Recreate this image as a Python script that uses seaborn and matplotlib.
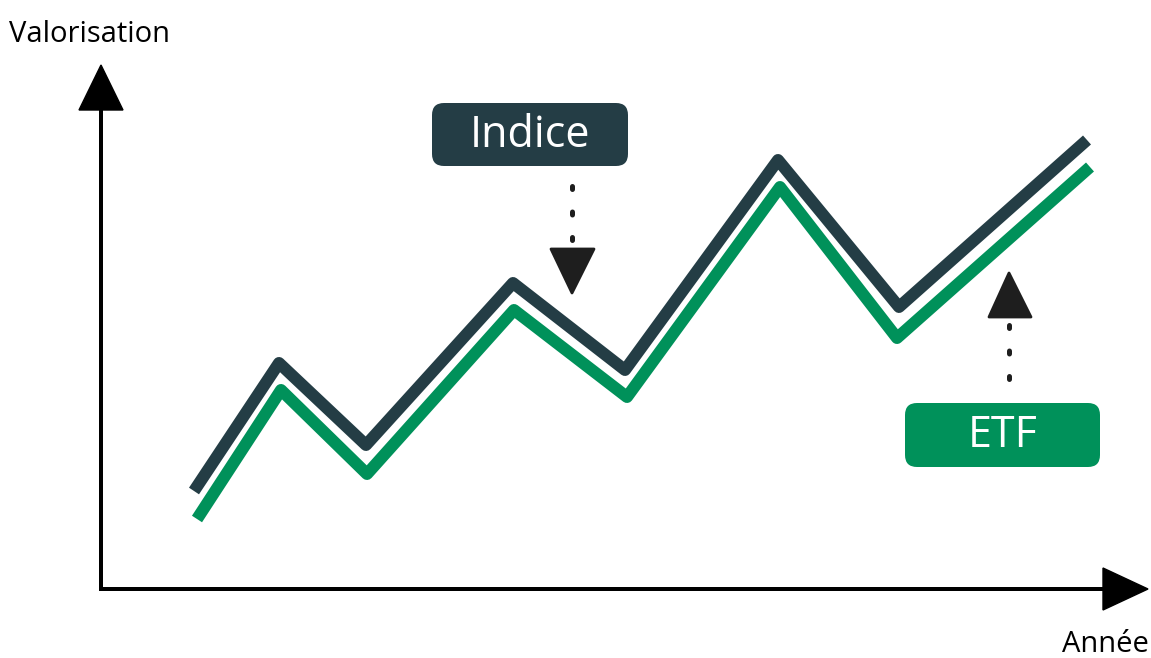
import matplotlib
matplotlib.use("Agg")
import matplotlib.pyplot as plt
import seaborn as sns
import pandas as pd
from matplotlib.patches import Polygon, FancyBboxPatch

# ---- data ----
indice_x = [194, 279, 366, 513, 625, 778, 899, 1087]
indice_y = [167, 295, 213, 375, 288, 498, 351, 518]
etf_x = [197, 281, 367, 514, 627, 780, 897, 1090]
etf_y = [139, 268, 184, 348, 261, 471, 320, 491]
series_names = ["Indice", "ETF"]
x_label = "Année"
y_label = "Valorisation"

C_IND = "#243d45"
C_ETF = "#00915a"
C_ARR = "#1e1e1e"

df = pd.concat([
    pd.DataFrame({"x": indice_x, "y": indice_y, "serie": series_names[0]}),
    pd.DataFrame({"x": etf_x, "y": etf_y, "serie": series_names[1]}),
])

sns.set_theme(style="white")
plt.rcParams['font.family'] = ['Open Sans', 'DejaVu Sans']

W, H = 1151, 658
fig = plt.figure(figsize=(W / 100, H / 100), dpi=100)
ax = fig.add_axes([0, 0, 1, 1])
ax.set_xlim(0, W)
ax.set_ylim(0, H)
ax.axis("off")

def Y(p):
    return H - p

lw_px = 12
sns.lineplot(data=df, x="x", y="y", hue="serie", units="serie", estimator=None,
             sort=False, palette={series_names[0]: C_IND, series_names[1]: C_ETF},
             linewidth=lw_px * 0.72, legend=False, ax=ax)
for ln in ax.lines:
    ln.set_solid_capstyle("butt")
    ln.set_solid_joinstyle("round")

# ---- axes with arrows ----
ax.plot([101, 101], [Y(591), Y(105)], color="black", lw=4 * 0.72, solid_capstyle="butt")
ax.plot([99, 1108], [Y(589), Y(589)], color="black", lw=4 * 0.72, solid_capstyle="butt")
ax.add_patch(Polygon([(79, Y(110)), (123, Y(110)), (101, Y(65))], closed=True,
                     facecolor="black", edgecolor="black", lw=1))
ax.add_patch(Polygon([(1103, Y(568)), (1103, Y(610)), (1148, Y(589))], closed=True,
                     facecolor="black", edgecolor="black", lw=1))

ax.text(9, Y(34), y_label, ha="left", va="center", fontsize=21, color="black")
ax.text(1149, Y(645), x_label, ha="right", va="center", fontsize=21, color="black")

# ---- label boxes ----
def label_box(x0, y0p, x1, y1p, color, text):
    box = FancyBboxPatch((x0, Y(y1p)), x1 - x0, y1p - y0p,
                         boxstyle="round,pad=0,rounding_size=12",
                         facecolor=color, edgecolor="none")
    ax.add_patch(box)
    ax.text((x0 + x1) / 2, Y((y0p + y1p) / 2) - 1, text, ha="center", va="center",
            fontsize=31, color="white")

label_box(432, 103, 628, 166, C_IND, series_names[0])
label_box(905, 403, 1100, 467, C_ETF, series_names[1])

# ---- dotted pointer arrows ----
dot_lw = 5 * 0.72
dots = (0.6, 4.5)
ax.plot([572, 572], [Y(185.5), Y(242)], color=C_ARR, lw=dot_lw,
        dash_capstyle="round", dashes=dots)
ax.add_patch(Polygon([(551, Y(249)), (594, Y(249)), (572, Y(293))], closed=True,
                     facecolor=C_ARR, edgecolor=C_ARR, lw=2, joinstyle="round"))

ax.plot([1009, 1009], [Y(378.5), Y(322)], color=C_ARR, lw=dot_lw,
        dash_capstyle="round", dashes=dots)
ax.add_patch(Polygon([(989, Y(317)), (1031, Y(317)), (1009, Y(273))], closed=True,
                     facecolor=C_ARR, edgecolor=C_ARR, lw=2, joinstyle="round"))

fig.savefig("out.png", dpi=100)
